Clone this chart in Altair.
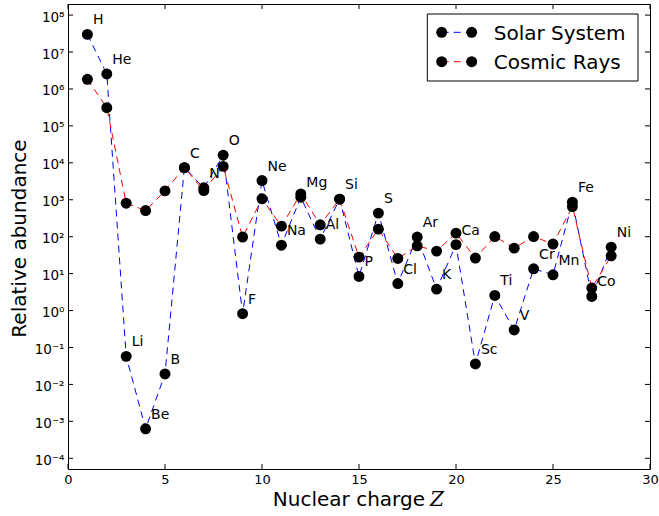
import altair as alt
import pandas as pd

# Elemental abundances (relative), Z = 1 .. 28
elements = ["H", "He", "Li", "Be", "B", "C", "N", "O", "F", "Ne", "Na", "Mg", "Al", "Si",
            "P", "S", "Cl", "Ar", "K", "Ca", "Sc", "Ti", "V", "Cr", "Mn", "Fe", "Co", "Ni"]
charge = list(range(1, 29))
solar = [3.0e7, 2.54e6, 0.0575, 6.3e-4, 0.0192, 7.4e3, 2.1e3, 1.61e4, 0.82, 3.3e3,
         59, 1.17e3, 86, 1.04e3, 8.4, 435, 5.4, 97.5, 3.8, 61,
         0.0358, 2.56, 0.298, 13.5, 9.3, 861, 2.41, 52]
cosmic = [1.82e6, 3.1e5, 809, 510, 1.74e3, 7.4e3, 1.77e3, 8.0e3, 97.5, 1.06e3,
          193, 1.44e3, 210, 1.04e3, 28, 160, 25.7, 56.6, 40.7, 125,
          26.4, 101, 49, 101, 63, 655, 4.06, 30.4]

x_ticks = [0, 5, 10, 15, 20, 25, 30]
y_exponents = list(range(-4, 9))
y_ticks = [10.0 ** k for k in y_exponents]

W, H = 582, 465
FONT = "DejaVu Sans"

solar_df = pd.DataFrame({"Z": charge, "A": solar, "el": elements})
cosmic_df = pd.DataFrame({"Z": charge, "A": cosmic})
xt_df = pd.DataFrame({"Z": x_ticks})
yt_df = pd.DataFrame({"A": y_ticks})
one = pd.DataFrame({"k": [0]})

x_scale = alt.Scale(domain=[0, 30], nice=False, zero=False)
y_scale = alt.Scale(type="log", domain=[10 ** -4.29, 10 ** 8.3], nice=False)

# exponent -> unicode superscript label
sup = "'' + round(log(datum.value) / LN10)"
for a, b in [("-", "⁻"), ("0", "⁰"), ("1", "¹"), ("2", "²"), ("3", "³"), ("4", "⁴"),
             ("5", "⁵"), ("6", "⁶"), ("7", "⁷"), ("8", "⁸"), ("9", "⁹")]:
    sup = f"replace({sup}, '{a}', '{b}')"
label_expr = "'10' + " + sup

# one shared axis definition per channel, reused by every layer
x_enc = alt.X("Z:Q", scale=x_scale,
              axis=alt.Axis(values=x_ticks, title=None, labelPadding=4, format="d",
                            labelFlush=False, labelOverlap=False))
y_enc = alt.Y("A:Q", scale=y_scale,
              axis=alt.Axis(values=y_ticks, title=None, labelExpr=label_expr,
                            labelPadding=4, labelBaseline="middle", labelOffset=2,
                            labelFlush=False, labelOverlap=False, labelFontSize=13.5))

dash = [7, 5]
MS = 120

solar_line = alt.Chart(solar_df).mark_line(color="#0000ff", strokeWidth=1, strokeDash=dash).encode(
    x=x_enc, y=y_enc)
solar_pts = alt.Chart(solar_df).mark_circle(color="black", size=MS, opacity=1).encode(
    x=x_enc, y=y_enc)
cosmic_line = alt.Chart(cosmic_df).mark_line(color="#ff0000", strokeWidth=1, strokeDash=dash).encode(
    x=x_enc, y=y_enc)
cosmic_pts = alt.Chart(cosmic_df).mark_circle(color="black", size=MS, opacity=1).encode(
    x=x_enc, y=y_enc)

labels = alt.Chart(solar_df).mark_text(
    align="left", baseline="alphabetic", dx=5.5, dy=-10, fontSize=14, font=FONT, color="black"
).encode(x=x_enc, y=y_enc, text="el:N")

# inward ticks on all four sides
tick = dict(color="black", strokeWidth=1)
yt_left = alt.Chart(yt_df).mark_rule(**tick).encode(y=y_enc, x=alt.value(0), x2=alt.value(5))
yt_right = alt.Chart(yt_df).mark_rule(**tick).encode(y=y_enc, x=alt.value(W - 5), x2=alt.value(W))
xt_bottom = alt.Chart(xt_df).mark_rule(**tick).encode(x=x_enc, y=alt.value(H - 5), y2=alt.value(H))
xt_top = alt.Chart(xt_df).mark_rule(**tick).encode(x=x_enc, y=alt.value(0), y2=alt.value(5))

# axis titles
x_title = alt.Chart(one).mark_text(
    text="Nuclear charge", align="right", baseline="alphabetic", fontSize=20, font=FONT, color="black"
).encode(x=alt.value(357), y=alt.value(501.7))
x_title_z = alt.Chart(one).mark_text(
    text="Z", align="left", baseline="alphabetic", fontSize=20, font="DejaVu Serif",
    fontStyle="italic", color="black"
).encode(x=alt.value(362), y=alt.value(501.7))
y_title = alt.Chart(one).mark_text(
    text="Relative abundance", angle=270, align="center", baseline="alphabetic",
    fontSize=20, font=FONT, color="black"
).encode(x=alt.value(-42), y=alt.value(234.5))

# legend box
lx0, lx1, ly0, ly1 = 359.3, 570, 10, 77
m1, m2 = 373.7, 403.7
rows = [("Solar System", "#0000ff", 28.3, 35.6), ("Cosmic Rays", "#ff0000", 57.7, 64.7)]

legend_layers = [
    alt.Chart(one).mark_rect(fill="white", stroke="black", strokeWidth=1).encode(
        x=alt.value(lx0), x2=alt.value(lx1), y=alt.value(ly0), y2=alt.value(ly1))
]
for name, col, yc, yb in rows:
    legend_layers.append(
        alt.Chart(one).mark_rule(color=col, strokeWidth=1, strokeDash=dash).encode(
            x=alt.value(m1), x2=alt.value(m2), y=alt.value(yc)))
    for mx in (m1, m2):
        legend_layers.append(
            alt.Chart(one).mark_circle(color="black", size=MS, opacity=1).encode(
                x=alt.value(mx), y=alt.value(yc)))
    legend_layers.append(
        alt.Chart(one).mark_text(text=name, align="left", baseline="alphabetic",
                                 fontSize=20, font=FONT, color="black").encode(
            x=alt.value(425.7), y=alt.value(yb)))

chart = alt.layer(
    solar_line, solar_pts, cosmic_line, cosmic_pts, labels,
    yt_left, yt_right, xt_bottom, xt_top,
    x_title, x_title_z, y_title,
    *legend_layers
).properties(
    width=W, height=H,
    autosize=alt.AutoSizeParams(type="none"),
    padding={"left": 68, "top": 4, "right": 9, "bottom": 47},
).configure_view(
    stroke="black", strokeWidth=1
).configure_axis(
    grid=False, domain=False, ticks=False, labelFont=FONT, labelFontSize=13, labelColor="black"
)

chart.save("out.html", embed_options={"renderer": "svg", "actions": False})
